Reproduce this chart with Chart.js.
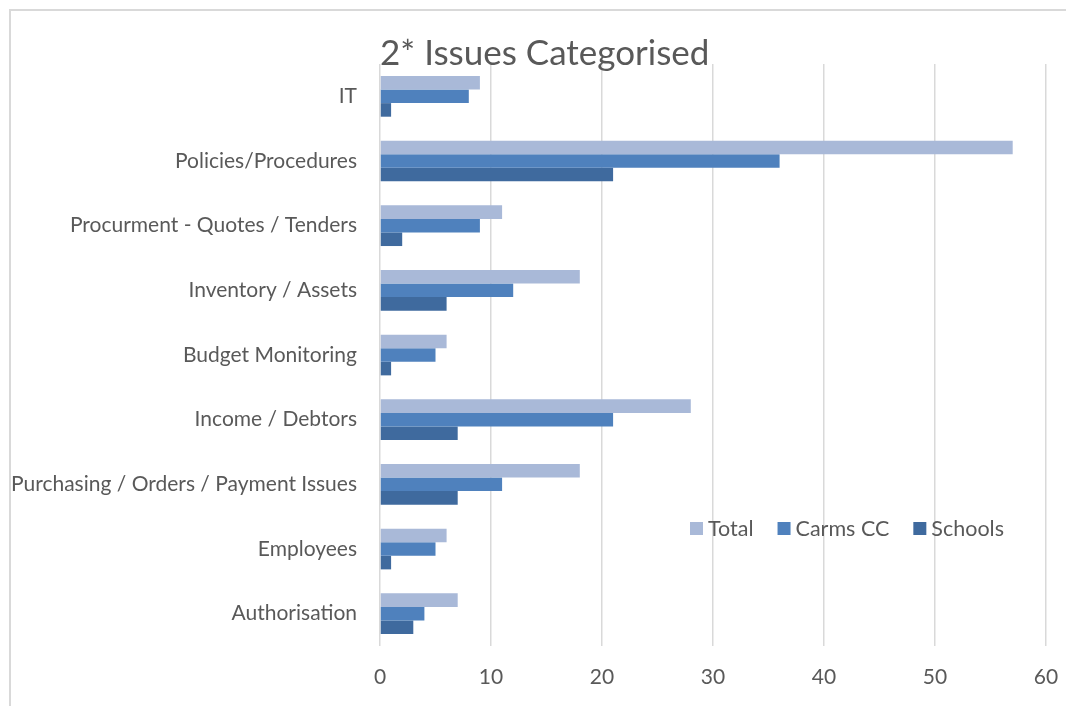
<!DOCTYPE html>
<html>
<head>
<meta charset="utf-8">
<script src="https://cdn.jsdelivr.net/npm/chart.js@4.4.1/dist/chart.umd.min.js"></script>
<style>
  html, body { margin: 0; padding: 0; background: #fff; }
  #wrap { position: relative; width: 1066px; height: 706px; }
  #frame { position: absolute; left: 9px; top: 9px; right: 0; bottom: 0;
           border-left: 2px solid #d9d9d9; border-top: 2px solid #d9d9d9; }
  canvas { position: absolute; left: 0; top: 0; }
</style>
</head>
<body>
<div id="wrap">
  <div id="frame"></div>
  <canvas id="c" width="1066" height="706"></canvas>
</div>
<script>
const titleText = "2* Issues Categorised";
const categories = [
  "IT",
  "Policies/Procedures",
  "Procurment - Quotes / Tenders",
  "Inventory / Assets",
  "Budget Monitoring",
  "Income / Debtors",
  "Purchasing / Orders / Payment Issues",
  "Employees",
  "Authorisation"
];
const seriesNames = ["Total", "Carms CC", "Schools"];
const totalValues   = [9, 57, 11, 18, 6, 28, 18, 6, 7];
const carmsValues   = [8, 36, 9, 12, 5, 21, 11, 5, 4];
const schoolsValues = [1, 21, 2, 6, 1, 7, 7, 1, 3];
const xTicks = [0, 10, 20, 30, 40, 50, 60];

const colors = ["#A9B9D8", "#4F81BD", "#3F6A9E"];
const FONT = "Lato";
const TEXT = "#595959";

const overlay = {
  id: "overlay",
  afterDraw(chart) {
    const ctx = chart.ctx;
    const area = chart.chartArea;
    ctx.save();
    // title
    ctx.fillStyle = TEXT;
    ctx.font = "35px " + FONT;
    ctx.textAlign = "left";
    ctx.textBaseline = "alphabetic";
    ctx.fillText(titleText, area.left, 65);
    // legend
    ctx.font = "21.5px " + FONT;
    ctx.textBaseline = "middle";
    let x = 690;
    const y = 528;
    chart.data.datasets.forEach((ds, i) => {
      ctx.fillStyle = ds.backgroundColor;
      ctx.fillRect(x, y - 6, 13, 13);
      ctx.fillStyle = TEXT;
      ctx.fillText(ds.label, x + 18, y + 1);
      x += 18 + ctx.measureText(ds.label).width + 24;
    });
    ctx.restore();
  }
};

new Chart(document.getElementById("c"), {
  type: "bar",
  data: {
    labels: categories,
    datasets: [
      { label: seriesNames[0], data: totalValues, backgroundColor: colors[0] },
      { label: seriesNames[1], data: carmsValues, backgroundColor: colors[1] },
      { label: seriesNames[2], data: schoolsValues, backgroundColor: colors[2] }
    ]
  },
  options: {
    indexAxis: "y",
    responsive: false,
    animation: false,
    devicePixelRatio: 1,
    layout: { padding: { top: 64, right: 20, left: 0, bottom: 0 } },
    datasets: { bar: { categoryPercentage: 0.63, barPercentage: 1.0 } },
    plugins: {
      legend: { display: false },
      title: { display: false },
      tooltip: { enabled: false }
    },
    scales: {
      x: {
        min: 0, max: 60,
        afterBuildTicks(scale) { scale.ticks = xTicks.map(v => ({ value: v })); },
        afterFit(scale) { scale.height = 60; scale.paddingRight = 0; scale.paddingLeft = 0; },
        grid: { color: "#D9D9D9", lineWidth: 1.5, drawTicks: false },
        border: { display: false },
        ticks: { padding: 19, color: TEXT, font: { family: FONT, size: 21 } }
      },
      y: {
        afterFit(scale) { scale.width = 380; scale.paddingTop = 0; scale.paddingBottom = 0; },
        grid: { display: false, drawTicks: false },
        border: { display: false },
        ticks: { padding: 23, color: TEXT, font: { family: FONT, size: 21 } }
      }
    }
  },
  plugins: [overlay]
});
</script>
</body>
</html>
